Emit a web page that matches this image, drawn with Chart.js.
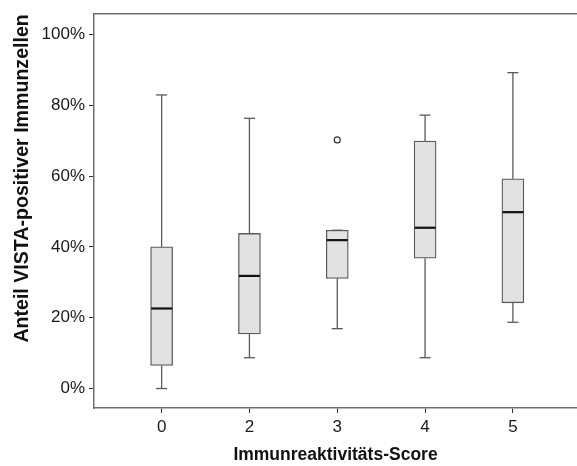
<!DOCTYPE html>
<html lang="de">
<head>
    <meta charset="UTF-8">
    <title>VISTA Immunzellen Boxplot</title>
    <script src="https://cdn.jsdelivr.net/npm/chart.js"></script>
    <style>
        html, body { margin: 0; padding: 0; background: #ffffff; }
        #wrap { width: 577px; height: 466px; }
    </style>
</head>
<body>
    <div id="wrap"><canvas id="myChart" width="577" height="466"></canvas></div>
    <script>
        // Immunreaktivitäts-Score groups and box plot values (in %)
        const categories = ['0', '2', '3', '4', '5'];
        const whiskerLow = [0, 8.7, 16.9, 8.7, 18.7];
        const q1 = [6.5, 15.4, 31.1, 36.8, 24.2];
        const median = [22.6, 31.8, 41.9, 45.4, 49.8];
        const q3 = [40.0, 43.8, 44.7, 69.9, 59.2];
        const whiskerHigh = [82.9, 76.3, 44.7, 77.2, 89.2];
        const outlierGroup = ['3'];
        const outlierValue = [70.2];
        const yTicks = [0, 20, 40, 60, 80, 100];

        const font = "'Liberation Sans', Arial, sans-serif";
        const lineGray = '#5a5a5a';

        // whiskers behind the boxes, medians on top of them
        const boxPlotParts = {
            id: 'boxPlotParts',
            beforeDatasetsDraw(chart) {
                const { ctx } = chart;
                const x = chart.scales.x, y = chart.scales.y;
                ctx.save();
                ctx.strokeStyle = lineGray;
                ctx.lineWidth = 1.3;
                categories.forEach((c, i) => {
                    const px = x.getPixelForValue(i);
                    const capW = 5.5;
                    const segs = [[whiskerHigh[i], q3[i]], [q1[i], whiskerLow[i]]];
                    segs.forEach(([a, b]) => {
                        if (a === b) return;
                        ctx.beginPath();
                        ctx.moveTo(px, y.getPixelForValue(a));
                        ctx.lineTo(px, y.getPixelForValue(b));
                        ctx.stroke();
                    });
                    [whiskerHigh[i], whiskerLow[i]].forEach(v => {
                        const py = y.getPixelForValue(v);
                        ctx.beginPath();
                        ctx.moveTo(px - capW, py);
                        ctx.lineTo(px + capW, py);
                        ctx.stroke();
                    });
                });
                ctx.restore();
            },
            afterDatasetsDraw(chart) {
                const { ctx } = chart;
                const x = chart.scales.x, y = chart.scales.y;
                ctx.save();
                ctx.strokeStyle = '#111111';
                ctx.lineWidth = 2.2;
                categories.forEach((c, i) => {
                    const px = x.getPixelForValue(i);
                    const py = y.getPixelForValue(median[i]);
                    ctx.beginPath();
                    ctx.moveTo(px - 10.5, py);
                    ctx.lineTo(px + 10.5, py);
                    ctx.stroke();
                });
                ctx.restore();
            }
        };

        new Chart(document.getElementById('myChart').getContext('2d'), {
            type: 'bar',
            data: {
                datasets: [{
                    type: 'bar',
                    label: 'Box',
                    data: categories.map((c, i) => ({ x: i, y: [q1[i], q3[i]] })),
                    backgroundColor: '#e2e2e2',
                    borderColor: lineGray,
                    borderWidth: 1.3,
                    borderSkipped: false,
                    barThickness: 22
                }, {
                    type: 'scatter',
                    label: 'Ausreißer',
                    data: outlierGroup.map((g, i) => ({ x: categories.indexOf(g), y: outlierValue[i] })),
                    pointStyle: 'circle',
                    pointRadius: 3,
                    pointBackgroundColor: '#ffffff',
                    pointBorderColor: '#333333',
                    pointBorderWidth: 1.2
                }]
            },
            options: {
                responsive: false,
                animation: false,
                layout: { autoPadding: false, padding: { top: 12, left: 0, right: 0, bottom: 0 } },
                plugins: {
                    legend: { display: false },
                    tooltip: { enabled: false }
                },
                scales: {
                    x: {
                        type: 'linear',
                        position: 'bottom',
                        offset: false,
                        min: -0.77,
                        max: 4.73,
                        afterBuildTicks: s => { s.ticks = categories.map((c, i) => ({ value: i })); },
                        afterFit: s => { s.height = 58; s.paddingLeft = 0; s.paddingRight = 0; },
                        ticks: {
                            callback: (v) => categories[v],
                            color: '#1a1a1a',
                            font: { family: font, size: 17 },
                            padding: 4,
                            maxRotation: 0,
                            autoSkip: false
                        },
                        grid: { display: true, offset: false, drawOnChartArea: false, drawTicks: true, tickLength: 5, tickColor: '#333333', tickWidth: 1 },
                        border: { display: true, color: '#6e6e6e', width: 1.5 },
                        title: {
                            display: true,
                            text: 'Immunreaktivitäts-Score',
                            color: '#111111',
                            font: { family: font, size: 17.5, weight: 'bold' },
                            padding: { top: 0, bottom: 0 }
                        }
                    },
                    xTop: {
                        type: 'linear',
                        position: 'top',
                        offset: false,
                        min: -0.77,
                        max: 4.73,
                        afterFit: s => { s.height = 0; s.paddingLeft = 0; s.paddingRight = 0; },
                        ticks: { display: false, padding: 0 },
                        grid: { display: false },
                        border: { display: true, color: '#6e6e6e', width: 1.5 }
                    },
                    y: {
                        type: 'linear',
                        min: -5.5,
                        max: 105.7,
                        afterBuildTicks: s => { s.ticks = yTicks.map(v => ({ value: v })); },
                        afterFit: s => { s.width = 94; },
                        ticks: {
                            callback: v => v + '%',
                            color: '#1a1a1a',
                            font: { family: font, size: 17 },
                            padding: 4
                        },
                        grid: { display: true, drawOnChartArea: false, drawTicks: true, tickLength: 5, tickColor: '#333333', tickWidth: 1 },
                        border: { display: true, color: '#6e6e6e', width: 1.5 },
                        title: {
                            display: true,
                            text: 'Anteil VISTA-positiver Immunzellen',
                            align: 'end',
                            color: '#111111',
                            font: { family: font, size: 19.6, weight: 'bold' },
                            padding: { top: 11, bottom: 0 }
                        }
                    }
                }
            },
            plugins: [boxPlotParts]
        });
    </script>
</body>
</html>
